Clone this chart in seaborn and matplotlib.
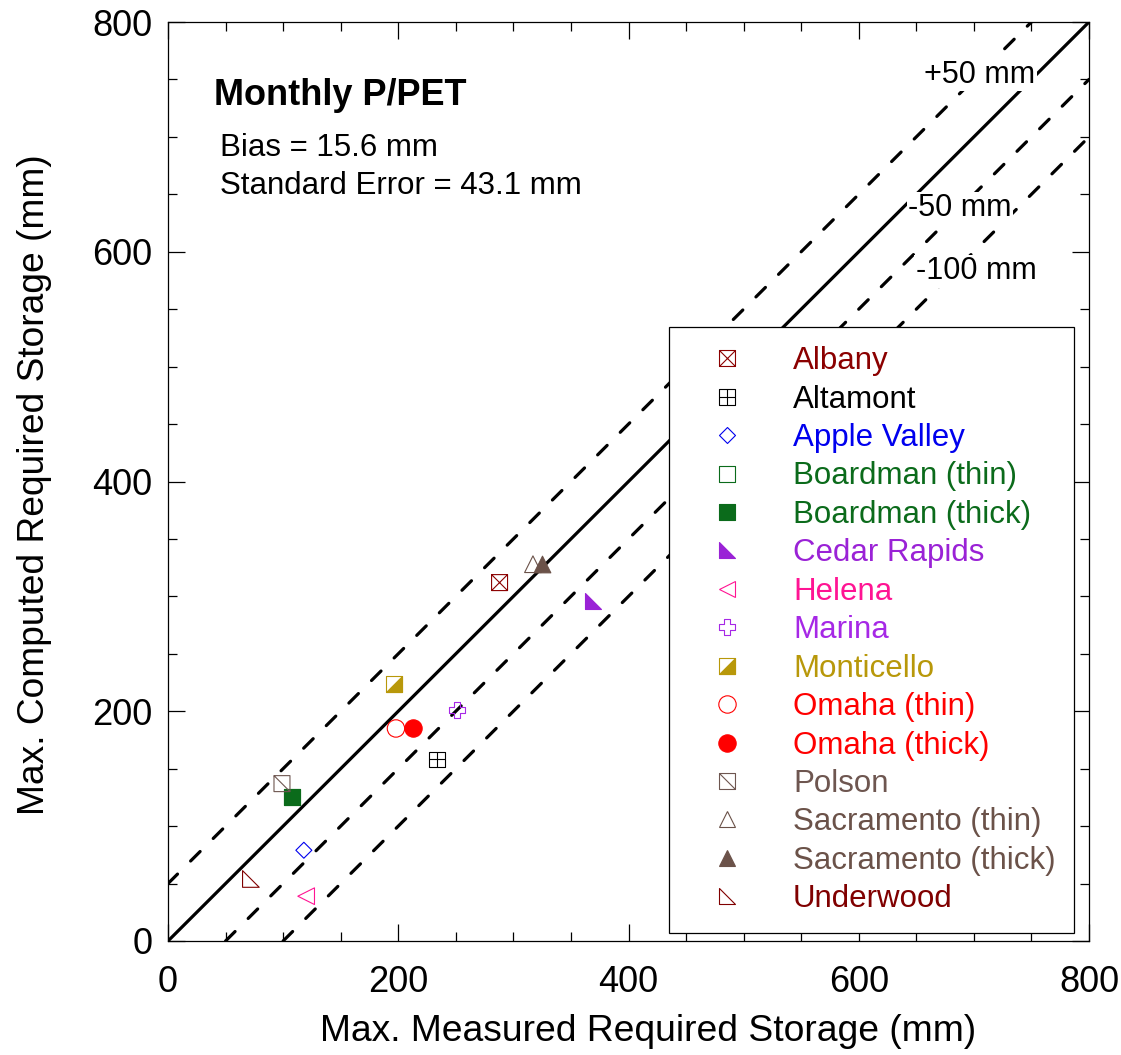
import numpy as np
import pandas as pd
import matplotlib
matplotlib.use("Agg")
import matplotlib.pyplot as plt
import seaborn as sns
from matplotlib.path import Path
from matplotlib.lines import Line2D
from matplotlib.legend_handler import HandlerTuple
from matplotlib.ticker import MultipleLocator

# ---------------- data ----------------
stations = ["Albany", "Altamont", "Apple Valley", "Boardman (thin)", "Boardman (thick)",
            "Cedar Rapids", "Helena", "Marina", "Monticello", "Omaha (thin)",
            "Omaha (thick)", "Polson", "Sacramento (thin)", "Sacramento (thick)", "Underwood"]
measured = [288, 234, 118, 108, 108, 369, 120, 251, 196, 198, 213, 99, 317, 325, 72]
computed = [312, 158, 79, 125, 125, 296, 39, 201, 224, 185, 185, 137, 328, 328, 54]
colors = ["#8b0000", "#000000", "#0000ee", "#0b6b1b", "#0b6b1b",
          "#9a22d6", "#ff1493", "#a628e6", "#b8980a", "#ff0000",
          "#ff0000", "#6e5650", "#6b5249", "#6b5249", "#800000"]
filled = [False, False, False, False, True, True, False, False, None, False,
          True, False, False, True, False]

line_offsets = [0, 50, -50, -100]
line_labels = ["+50 mm", "-50 mm", "-100 mm"]
line_label_x = [705, 688, 702]
line_label_y = [754, 638, 583]

bias_text = "Bias = 15.6 mm"
se_text = "Standard Error = 43.1 mm"
title_text = "Monthly P/PET"

df = pd.DataFrame({"station": stations, "measured": measured, "computed": computed})

# ---------------- markers ----------------
M, L, C = Path.MOVETO, Path.LINETO, Path.CLOSEPOLY
sq_v = [(-1, -1), (1, -1), (1, 1), (-1, 1), (-1, -1)]
sq_c = [M, L, L, L, C]
box_x = Path(sq_v + [(-1, -1), (1, 1), (-1, 1), (1, -1)], sq_c + [M, L, M, L])
box_plus = Path(sq_v + [(0, -1), (0, 1), (-1, 0), (1, 0)], sq_c + [M, L, M, L])
box_diag = Path(sq_v + [(-1, 1), (1, -1)], sq_c + [M, L])
square = Path(sq_v, sq_c)
diamond = Path([(0, 1), (1, 0), (0, -1), (-1, 0), (0, 1)], [M, L, L, L, C])
rtri = Path([(-1, 1), (-1, -1), (1, -1), (-1, 1)], [M, L, L, C])
half = Path([(-1, -1), (1, -1), (1, 1), (-1, -1)], [M, L, L, C])
a = 0.36
cross = Path([(-a, 1), (a, 1), (a, a), (1, a), (1, -a), (a, -a), (a, -1), (-a, -1),
              (-a, -a), (-1, -a), (-1, a), (-a, a), (-a, 1)],
             [M] + [L] * 11 + [C])

markers = [box_x, box_plus, diamond, square, square, rtri, "<", cross, None, "o",
           "o", box_diag, "^", "^", rtri]
sizes = [11.5, 11.5, 11.5, 11.5, 11.5, 12, 12, 12, 11.5, 12.5, 12.5, 11.5, 12, 12, 12]

# ---------------- figure ----------------
sns.set_style("ticks")
plt.rcParams["font.family"] = ["Liberation Sans", "DejaVu Sans"]
plt.rcParams["text.color"] = "black"
plt.rcParams["axes.labelcolor"] = "black"
plt.rcParams["xtick.color"] = "black"
plt.rcParams["ytick.color"] = "black"

fig = plt.figure(figsize=(11.21, 10.55), dpi=100)
ax = fig.add_axes([168 / 1121, 1 - 941 / 1055, 921 / 1121, 919 / 1055])

# reference lines
for off in line_offsets:
    if off == 0:
        ax.axline((0, off), slope=1, color="black", lw=2.3, zorder=2)
    else:
        ax.axline((0, off), slope=1, color="black", lw=2.3, zorder=2,
                  linestyle=(0, (4.2, 5.8)), dash_capstyle="round")

for lab, lx, ly in zip(line_labels, line_label_x, line_label_y):
    ax.text(lx, ly, lab, fontsize=22, ha="center", va="center", zorder=3,
            bbox=dict(facecolor="white", edgecolor="none", pad=1))

lw = 0.8
handles = []
for i, name in enumerate(stations):
    sub = df[df["station"] == name]
    col = colors[i]
    s = sizes[i] ** 2
    if name == "Monticello":
        sns.scatterplot(data=sub, x="measured", y="computed", marker=square, s=s,
                        color=col, facecolors="white", edgecolor=col, linewidth=lw,
                        ax=ax, zorder=4, legend=False)
        sns.scatterplot(data=sub, x="measured", y="computed", marker=half, s=s,
                        color=col, edgecolor=col, linewidth=lw, ax=ax, zorder=5,
                        legend=False)
        h = (Line2D([], [], marker=square, ls="none", ms=sizes[i], mfc="white", mec=col, mew=lw),
             Line2D([], [], marker=half, ls="none", ms=sizes[i], mfc=col, mec=col, mew=lw))
    else:
        fc = col if filled[i] else "none"
        sns.scatterplot(data=sub, x="measured", y="computed", marker=markers[i], s=s,
                        color=col, facecolors=fc, edgecolor=col, linewidth=lw,
                        ax=ax, zorder=4, legend=False)
        h = Line2D([], [], marker=markers[i], ls="none", ms=sizes[i],
                   mfc=fc, mec=col, mew=lw)
    handles.append(h)

ax.set_xlim(0, 800)
ax.set_ylim(0, 800)
ax.xaxis.set_major_locator(MultipleLocator(200))
ax.yaxis.set_major_locator(MultipleLocator(200))
ax.xaxis.set_minor_locator(MultipleLocator(50))
ax.yaxis.set_minor_locator(MultipleLocator(50))
ax.tick_params(which="both", direction="in", top=True, right=True, colors="black",
               labelsize=26, width=0.9)
ax.tick_params(which="major", length=12.5)
ax.tick_params(which="minor", length=6.5)
ax.tick_params(axis="x", which="both", pad=17.5)
ax.tick_params(axis="y", which="both", pad=11)
for sp in ax.spines.values():
    sp.set_visible(True)
    sp.set_linewidth(0.9)
    sp.set_color("black")

ax.set_xlabel("Max. Measured Required Storage (mm)", fontsize=26.8)
ax.set_ylabel("Max. Computed Required Storage (mm)", fontsize=26.7)
ax.xaxis.set_label_coords(0.5217, -0.079)
ax.yaxis.set_label_coords(-0.126, 0.497)

ax.text(0.05, 0.920, title_text, transform=ax.transAxes, fontsize=26,
        fontweight="bold", va="center", ha="left")
ax.text(0.057, 0.863, bias_text, transform=ax.transAxes, fontsize=22.5, va="center")
ax.text(0.057, 0.822, se_text, transform=ax.transAxes, fontsize=22.5, va="center")

leg = ax.legend(handles, stations, loc="lower left",
                bbox_to_anchor=(0.544, 0.0087), fontsize=22.5,
                handler_map={tuple: HandlerTuple(ndivide=1)},
                frameon=True, fancybox=False, framealpha=1, edgecolor="black",
                borderpad=0.6, labelspacing=0.27, handlelength=2.5,
                handletextpad=0.87, borderaxespad=0)
leg.get_frame().set_linewidth(0.9)
leg.set_zorder(10)
for t, c in zip(leg.get_texts(), colors):
    t.set_color(c)

fig.savefig("out.png", dpi=100)
